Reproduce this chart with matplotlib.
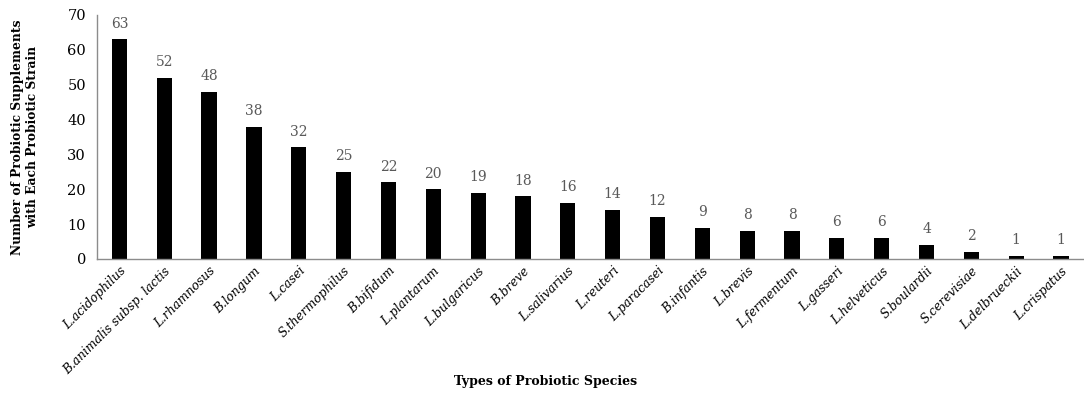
import matplotlib.pyplot as plt

species = ["L.acidophilus", "B.animalis subsp. lactis", "L.rhamnosus", "B.longum",
           "L.casei", "S.thermophilus", "B.bifidum", "L.plantarum", "L.bulgaricus",
           "B.breve", "L.salivarius", "L.reuteri", "L.paracasei", "B.infantis",
           "L.brevis", "L.fermentum", "L.gasseri", "L.helveticus", "S.boulardii",
           "S.cerevisiae", "L.delbrueckii", "L.crispatus"]
counts = [63, 52, 48, 38, 32, 25, 22, 20, 19, 18, 16, 14, 12, 9, 8, 8, 6, 6, 4, 2, 1, 1]
y_ticks = [0, 10, 20, 30, 40, 50, 60, 70]

plt.rcParams['font.family'] = ['DejaVu Serif']

fig = plt.figure(figsize=(10.84, 3.93), dpi=100)
ax = fig.add_axes([0.0895, 0.341, 0.91, 0.621])

x = range(len(species))
ax.bar(x, counts, width=0.34, color="black")

# value labels above bars
for i, v in enumerate(counts):
    ax.text(i, v + 2.5, str(v), ha="center", va="bottom", fontsize=10, color="#595959")

ax.set_xlim(-0.5, len(species) - 0.5)
ax.set_ylim(0, 70)
ax.set_yticks(y_ticks)
ax.tick_params(axis="y", length=0, labelsize=10.5, pad=8)
ax.tick_params(axis="x", length=0, pad=4)
ax.set_xticks(list(x))
ax.set_xticklabels(species, rotation=45, ha="right", rotation_mode="anchor",
                   fontsize=8.8, style="italic")

for s in ["top", "right"]:
    ax.spines[s].set_visible(False)
for s in ["left", "bottom"]:
    ax.spines[s].set_color("#8c8c8c")
    ax.spines[s].set_linewidth(1.0)

ax.set_ylabel("Number of Probiotic Supplements\nwith Each Probiotic Strain",
              fontsize=8.8, fontweight="bold", labelpad=20)
fig.text(0.503, 0.028, "Types of Probiotic Species", ha="center", va="center",
         fontsize=9, fontweight="bold")

plt.savefig("out.png", dpi=100)
